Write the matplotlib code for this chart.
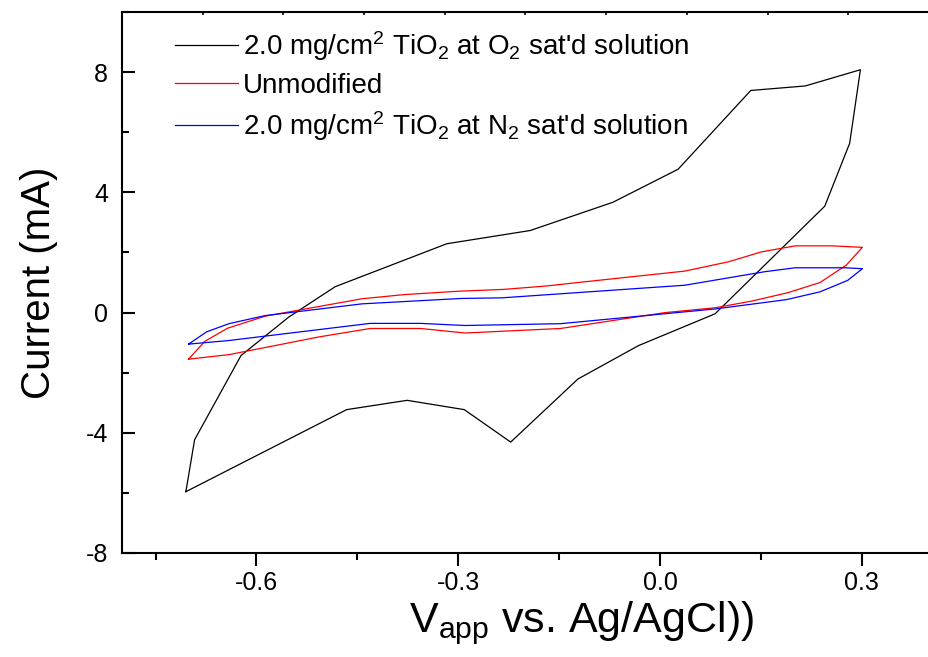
import matplotlib
matplotlib.use("Agg")
import matplotlib.pyplot as plt
from matplotlib.ticker import MultipleLocator

plt.rcParams['font.family'] = ['Liberation Sans', 'DejaVu Sans']
plt.rcParams['mathtext.fontset'] = 'custom'
plt.rcParams['mathtext.rm'] = 'Liberation Sans'
plt.rcParams['mathtext.it'] = 'Liberation Sans:italic'
plt.rcParams['axes.unicode_minus'] = False

# Циклические вольтамперограммы, ток в мА
v_o2 = [-0.705, -0.692, -0.623, -0.552, -0.483, -0.317, -0.193, -0.070, 0.027, 0.135,
        0.216, 0.298, 0.282, 0.245, 0.082, -0.032, -0.122, -0.222, -0.291, -0.376,
        -0.466, -0.705]
i_o2 = [-5.96, -4.23, -1.43, -0.15, 0.86, 2.29, 2.73, 3.67, 4.77, 7.39,
        7.54, 8.08, 5.63, 3.54, -0.04, -1.10, -2.21, -4.31, -3.23, -2.92,
        -3.23, -5.96]

v_unmod = [-0.701, -0.677, -0.643, -0.587, -0.443, -0.379, -0.300, -0.233, -0.171, -0.072,
           0.037, 0.102, 0.151, 0.201, 0.255, 0.301, 0.277, 0.238, 0.190, 0.136,
           0.082, 0.008, -0.148, -0.290, -0.356, -0.431, -0.507, -0.641, -0.701]
i_unmod = [-1.55, -0.96, -0.52, -0.12, 0.46, 0.60, 0.71, 0.77, 0.88, 1.12,
           1.38, 1.69, 2.02, 2.22, 2.22, 2.17, 1.58, 1.00, 0.66, 0.38,
           0.16, 0.00, -0.53, -0.68, -0.53, -0.53, -0.81, -1.40, -1.55]

v_n2 = [-0.701, -0.674, -0.641, -0.587, -0.443, -0.295, -0.235, 0.037, 0.156, 0.201,
        0.275, 0.301, 0.279, 0.238, 0.188, 0.082, -0.148, -0.290, -0.356, -0.431,
        -0.641, -0.701]
i_n2 = [-1.05, -0.64, -0.37, -0.10, 0.29, 0.47, 0.49, 0.91, 1.36, 1.49,
        1.49, 1.46, 1.07, 0.69, 0.43, 0.12, -0.37, -0.43, -0.36, -0.36,
        -0.93, -1.05]

labels = [r"2.0 mg/cm$^\mathregular{2}$ TiO$_\mathregular{2}$ at O$_\mathregular{2}$ sat'd solution",
          "Unmodified",
          r"2.0 mg/cm$^\mathregular{2}$ TiO$_\mathregular{2}$ at N$_\mathregular{2}$ sat'd solution"]

fig = plt.figure(figsize=(9.29, 6.57), dpi=100)
ax = fig.add_axes([0.1313, 0.1583, 0.8687, 0.8234])

ax.plot(v_o2, i_o2, color='black', lw=0.9, label=labels[0])
ax.plot(v_unmod, i_unmod, color='red', lw=0.9, label=labels[1])
ax.plot(v_n2, i_n2, color='blue', lw=0.9, label=labels[2])

ax.set_xlim(-0.8, 0.4)
ax.set_ylim(-8, 10)
ax.set_xticks([-0.6, -0.3, 0.0, 0.3])
ax.set_yticks([-8, -4, 0, 4, 8])
ax.xaxis.set_minor_locator(MultipleLocator(0.15))
ax.yaxis.set_minor_locator(MultipleLocator(2))

ax.tick_params(axis='y', which='major', direction='in', length=9, width=1.5,
               labelsize=18, pad=10)
ax.tick_params(axis='y', which='minor', direction='in', length=5, width=1.5)
ax.tick_params(axis='x', which='major', direction='out', length=9, width=1.5,
               labelsize=18, pad=4)
ax.tick_params(axis='x', which='minor', direction='out', length=5, width=1.5)

for side in ['left', 'bottom', 'top']:
    ax.spines[side].set_linewidth(1.5)
ax.spines['right'].set_visible(False)

# мелкие засечки на верхней оси
top = ax.twiny()
top.set_xlim(0, 10)
top.set_xticks(range(0, 11))
top.tick_params(axis='x', direction='in', length=2, width=1.2, labeltop=False)
for s in top.spines.values():
    s.set_visible(False)

ax.set_xlabel(r"V$_\mathregular{app}$ vs. Ag/AgCl))", fontsize=31)
ax.xaxis.set_label_coords(0.57, -0.085, transform=ax.transAxes)
ax.xaxis.label.set_va('top')
ax.set_ylabel("Current (mA)", fontsize=29, labelpad=20)

ax.legend(loc='upper left', bbox_to_anchor=(0.0657, 0.968), frameon=False,
          fontsize=20, handlelength=2.27, handletextpad=0.18, labelspacing=0.36,
          borderpad=0, borderaxespad=0)

fig.savefig("out.png", dpi=100)
